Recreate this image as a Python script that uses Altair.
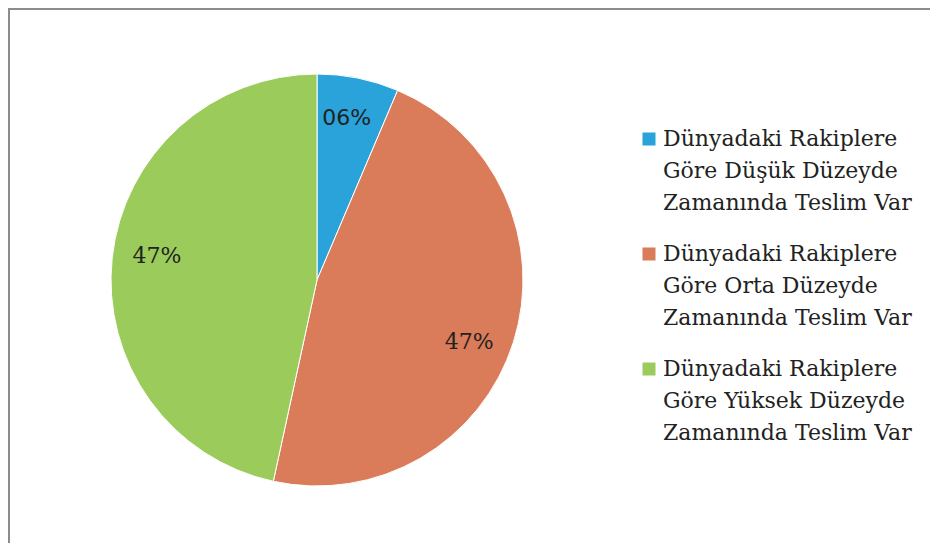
import altair as alt
import pandas as pd

categories = [
    "Dünyadaki Rakiplere|Göre Düşük Düzeyde|Zamanında Teslim Var",
    "Dünyadaki Rakiplere|Göre Orta Düzeyde|Zamanında Teslim Var",
    "Dünyadaki Rakiplere|Göre Yüksek Düzeyde|Zamanında Teslim Var",
]
values = [6.4, 47.0, 46.6]
labels = ["06%", "47%", "47%"]
colors = ["#29A3D9", "#DA7B59", "#9BCC5B"]
order = [0, 1, 2]

df = pd.DataFrame({"cat": categories, "value": values, "label": labels, "order": order})

W, H = 922, 535
CX, CY, R = 309, 272, 206

frame_top = alt.Chart(df).mark_rule(color="#8c8c8c", strokeWidth=2).encode(
    x=alt.value(0), x2=alt.value(W), y=alt.value(1)
)
frame_left = alt.Chart(df).mark_rule(color="#8c8c8c", strokeWidth=2).encode(
    x=alt.value(1), y=alt.value(0), y2=alt.value(H)
)

base = alt.Chart(df).encode(
    theta=alt.Theta("value:Q", stack=True),
    order=alt.Order("order:Q"),
)

pie = base.mark_arc(radius=R, stroke="white", strokeWidth=1).encode(
    x=alt.value(CX),
    y=alt.value(CY),
    color=alt.Color(
        "cat:N",
        sort=categories,
        scale=alt.Scale(domain=categories, range=colors),
        legend=alt.Legend(
            title=None,
            orient="none",
            legendX=630,
            legendY=120,
            symbolType="square",
            symbolSize=169,
            symbolStrokeWidth=0,
            labelFont="DejaVu Serif",
            labelFontSize=22,
            labelColor="#222222",
            labelLimit=0,
            labelOffset=3,
            labelBaseline="middle",
            labelExpr="split(datum.label, '|')",
            rowPadding=29,
        ),
    ),
)


def label_layer(idx, font, dx, dy):
    return base.mark_text(
        radius=164, font=font, fontSize=22, color="#222222", dx=dx, dy=dy
    ).encode(
        x=alt.value(CX),
        y=alt.value(CY),
        text=alt.condition(alt.datum.order == idx, "label:N", alt.value("")),
    )


t0 = label_layer(0, "DejaVu Sans", -3, -1)
t1 = label_layer(1, "DejaVu Serif", -4, 12)
t2 = label_layer(2, "DejaVu Serif", 3, -7)

chart = (
    alt.layer(frame_top, frame_left, pie, t0, t1, t2)
    .properties(width=W, height=H, autosize=alt.AutoSizeParams(type="none"), padding=0)
    .configure(style={"guide-label": {"lineHeight": 32}})
    .configure_view(stroke=None)
)

chart.save("out.html", embed_options={"renderer": "svg", "actions": False})
